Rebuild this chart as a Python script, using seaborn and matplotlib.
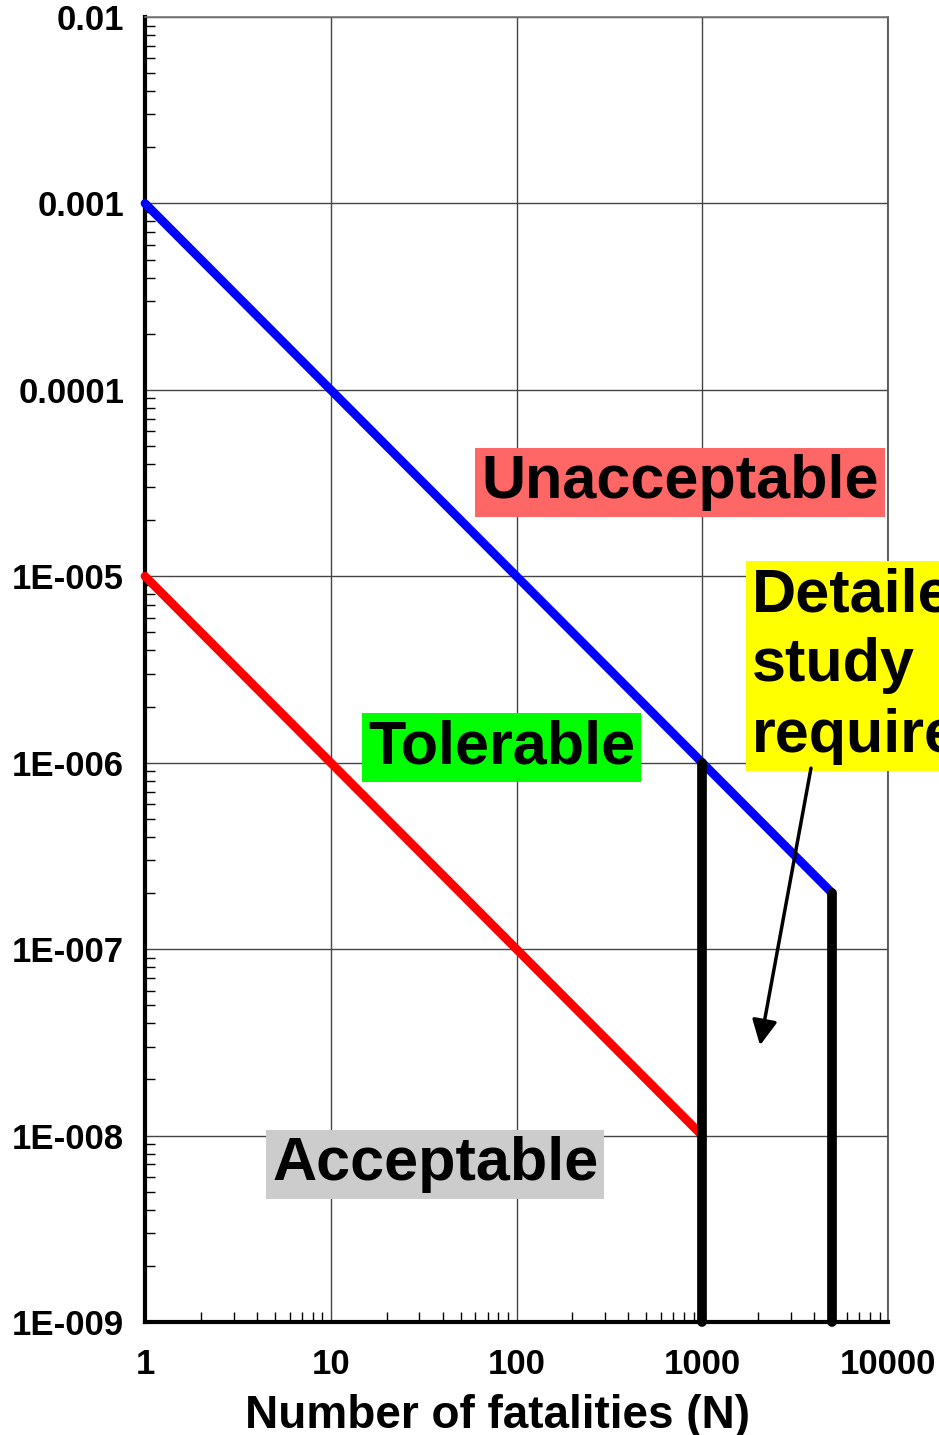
import numpy as np
import matplotlib
matplotlib.use("Agg")
import matplotlib.pyplot as plt
from matplotlib.ticker import FixedLocator, FixedFormatter, LogLocator, NullFormatter
import seaborn as sns

sns.set_style("white")
plt.rcParams["font.family"] = ["Liberation Sans", "DejaVu Sans"]
plt.rcParams["font.weight"] = "bold"
plt.rcParams["text.color"] = "black"
plt.rcParams["axes.labelcolor"] = "black"
plt.rcParams["xtick.color"] = "black"
plt.rcParams["ytick.color"] = "black"

# F-N criterion lines: number of fatalities N vs. frequency F (per year)
upper_n = [1, 5000]
upper_f = [1e-3, 2e-7]
lower_n = [1, 1000]
lower_f = [1e-5, 1e-8]
# vertical cut-offs bounding the "detailed study" zone
cut1_n = [1000, 1000]
cut1_f = [1e-6, 1e-9]
cut2_n = [5000, 5000]
cut2_f = [2e-7, 1e-9]

x_ticks = [1, 10, 100, 1000, 10000]
x_labels = ["1", "10", "100", "1000", "10000"]
y_ticks = [1e-9, 1e-8, 1e-7, 1e-6, 1e-5, 1e-4, 1e-3, 1e-2]
y_labels = ["1E-009", "1E-008", "1E-007", "1E-006", "1E-005", "0.0001", "0.001", "0.01"]

W, H = 939, 1435
fig = plt.figure(figsize=(W / 100, H / 100), dpi=100)
ax = fig.add_axes([145 / W, 113 / H, 743 / W, 1305 / H])
ax.set_xscale("log")
ax.set_yscale("log")
ax.set_xlim(1, 10000)
ax.set_ylim(1e-9, 1e-2)

line_kw = dict(estimator=None, sort=False, solid_capstyle="round", clip_on=False, legend=False)
sns.lineplot(x=upper_n, y=upper_f, ax=ax, color="#0000FF", lw=6.3, zorder=4, **line_kw)
sns.lineplot(x=lower_n, y=lower_f, ax=ax, color="#FF0000", lw=6.3, zorder=4, **line_kw)
sns.lineplot(x=cut1_n, y=cut1_f, ax=ax, color="black", lw=7, zorder=5, **line_kw)
sns.lineplot(x=cut2_n, y=cut2_f, ax=ax, color="black", lw=7, zorder=5, **line_kw)

# ticks and grid
ax.xaxis.set_major_locator(FixedLocator(x_ticks))
ax.xaxis.set_major_formatter(FixedFormatter(x_labels))
ax.yaxis.set_major_locator(FixedLocator(y_ticks))
ax.yaxis.set_major_formatter(FixedFormatter(y_labels))
ax.xaxis.set_minor_locator(LogLocator(base=10, subs=np.arange(2, 10), numticks=100))
ax.yaxis.set_minor_locator(LogLocator(base=10, subs=np.arange(2, 10), numticks=100))
ax.xaxis.set_minor_formatter(NullFormatter())
ax.yaxis.set_minor_formatter(NullFormatter())
ax.tick_params(which="both", bottom=True, left=True, top=False, right=False)
ax.tick_params(which="major", length=0, labelsize=25, labelcolor="black")
ax.tick_params(axis="x", which="major", pad=19)
ax.tick_params(axis="y", which="major", pad=15)
ax.tick_params(which="minor", direction="in", length=7, width=1, color="black")
for lab in ax.get_xticklabels() + ax.get_yticklabels():
    lab.set_fontweight("bold")
ax.grid(True, which="major", color="#444444", lw=1)
ax.grid(False, which="minor")

for side in ("left", "bottom"):
    ax.spines[side].set_color("black")
    ax.spines[side].set_linewidth(3)
ax.spines["top"].set_color("#777777")
ax.spines["top"].set_linewidth(1.2)
ax.spines["right"].set_color("#444444")
ax.spines["right"].set_linewidth(1.2)

ax.set_xlabel("Number of fatalities (N)", fontsize=33, fontweight="bold", color="black")
ax.xaxis.set_label_coords(0.475, -0.055)

# region labels
def region(x, y, s, fc, va="baseline", **kw):
    ax.text(x, y, s, fontsize=44, fontweight="bold", color="black", ha="left", va=va,
            zorder=6, clip_on=False,
            bbox=dict(boxstyle="square,pad=0.1", fc=fc, ec="none"), **kw)

region(64.4, 2.63e-5, "Unacceptable", "#FF6666")
region(15.9, 9.95e-7, "Tolerable", "#00FF00")
region(4.83, 5.77e-9, "Acceptable", "#CCCCCC")
region(1853, 1.12e-5, "Detailed\nstudy\nrequired", "#FFFF00", va="top", linespacing=1.3)

ax.annotate("", xy=(2046, 3.05e-8), xytext=(3850, 9.35e-7),
            arrowprops=dict(arrowstyle="-|>", lw=2.5, color="black",
                            mutation_scale=38, shrinkA=0, shrinkB=0),
            zorder=6)

fig.savefig("out.png", dpi=100)
